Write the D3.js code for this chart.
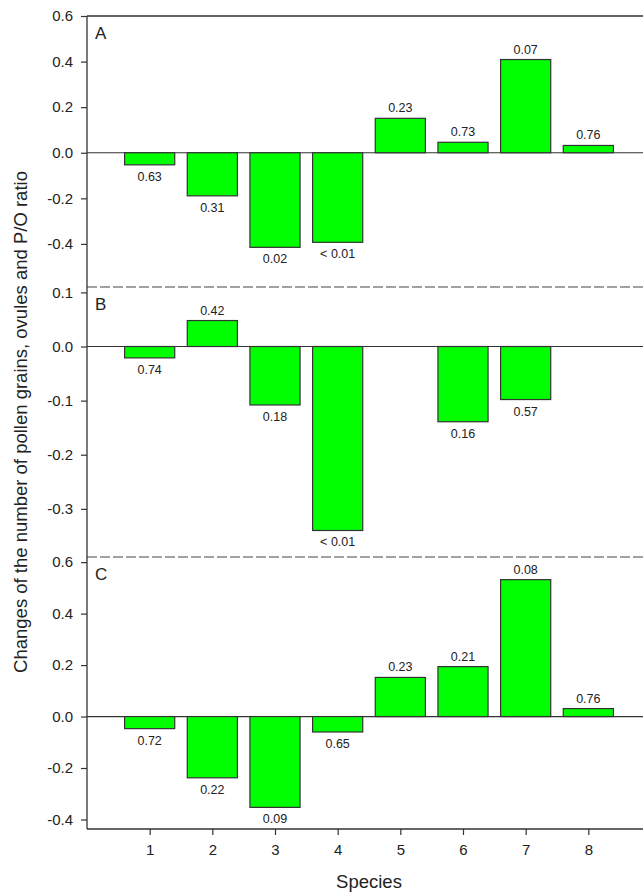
<!DOCTYPE html>
<html><head><meta charset="utf-8">
<script src="https://cdn.jsdelivr.net/npm/d3@7"></script>
<style>body{margin:0;background:#fff}svg{display:block}text{font-family:Arial,"Liberation Sans",sans-serif;fill:#222}</style>
</head><body><div id="chart"></div>
<script>
const species = [1,2,3,4,5,6,7,8];
const valuesA = [-0.053,-0.189,-0.415,-0.393,0.151,0.046,0.409,0.032];
const labelsA = ["0.63","0.31","0.02","< 0.01","0.23","0.73","0.07","0.76"];
const valuesB = [-0.021,0.048,-0.108,-0.340,null,-0.139,-0.098,null];
const labelsB = ["0.74","0.42","0.18","< 0.01","","0.16","0.57",""];
const valuesC = [-0.047,-0.238,-0.353,-0.060,0.152,0.194,0.532,0.031];
const labelsC = ["0.72","0.22","0.09","0.65","0.23","0.21","0.08","0.76"];
const ticksA = [-0.4,-0.2,0,0.2,0.4,0.6];
const ticksB = [-0.3,-0.2,-0.1,0,0.1];
const ticksC = [-0.4,-0.2,0,0.2,0.4,0.6];
const panelNames = ["A","B","C"];
const domainA = [-0.589,0.6], domainB = [-0.389,0.11], domainC = [-0.437,0.62];

const W=643,H=894;
const svg=d3.select("#chart").append("svg").attr("width",W).attr("height",H);
const left=87, right=651;
const x=d3.scaleLinear().domain([0,9]).range([left,right]);
const panels=[
  {name:panelNames[0],vals:valuesA,labs:labelsA,ticks:ticksA,y:d3.scaleLinear().domain(domainA).range([287,16])},
  {name:panelNames[1],vals:valuesB,labs:labelsB,ticks:ticksB,y:d3.scaleLinear().domain(domainB).range([557,287])},
  {name:panelNames[2],vals:valuesC,labs:labelsC,ticks:ticksC,y:d3.scaleLinear().domain(domainC).range([829,557])}
];
const lineCol="#333";
const fmt=d=>d.toFixed(1);
const bw=0.8;
panels.forEach((p,i)=>{
  const g=svg.append("g");
  g.append("line").attr("x1",left).attr("x2",right).attr("y1",p.y(0)).attr("y2",p.y(0)).attr("stroke",lineCol).attr("stroke-width",1.2);
  const data=species.map((s,j)=>({s,v:p.vals[j],l:p.labs[j]})).filter(d=>d.v!==null);
  g.selectAll("rect").data(data).enter().append("rect")
    .attr("x",d=>x(d.s-bw/2)).attr("width",d=>x(bw)-x(0))
    .attr("y",d=>p.y(Math.max(0,d.v))).attr("height",d=>Math.abs(p.y(d.v)-p.y(0)))
    .attr("fill","#00ff00").attr("stroke",lineCol).attr("stroke-width",1.2);
  g.selectAll("text.lab").data(data).enter().append("text").attr("class","lab")
    .attr("x",d=>x(d.s)).attr("y",d=>d.v<0?p.y(d.v)+16:p.y(d.v)-6)
    .attr("text-anchor","middle").attr("font-size",12.5).text(d=>d.l);
  const ax=g.append("g").attr("transform",`translate(${left},0)`)
    .call(d3.axisLeft(p.y).tickValues(p.ticks).tickFormat(fmt).tickSize(6).tickPadding(8));
  ax.select(".domain").remove();
  ax.selectAll("line").attr("stroke",lineCol).attr("stroke-width",1.2);
  ax.selectAll("text").attr("font-size",15).style("font-family","Arial, 'Liberation Sans', sans-serif").attr("fill","#222");
  g.append("text").attr("x",95).attr("y",p.y.range()[1]+23).attr("font-size",17).text(p.name);
  if(i>0){
    svg.append("line").attr("x1",left).attr("x2",W).attr("y1",p.y.range()[1]).attr("y2",p.y.range()[1])
      .attr("stroke","#444").attr("stroke-width",1.2).attr("stroke-dasharray","10,3");
  }
});
svg.append("line").attr("x1",left).attr("x2",left).attr("y1",16).attr("y2",829).attr("stroke",lineCol).attr("stroke-width",1.3);
svg.append("line").attr("x1",left).attr("x2",right).attr("y1",16).attr("y2",16).attr("stroke",lineCol).attr("stroke-width",1.3);
const xb=svg.append("g").attr("transform","translate(0,829)")
  .call(d3.axisBottom(x).tickValues(species).tickFormat(d3.format("d")).tickSize(6).tickPadding(9));
xb.select(".domain").remove();
svg.append("line").attr("x1",left).attr("x2",right).attr("y1",829).attr("y2",829).attr("stroke",lineCol).attr("stroke-width",1.3);
xb.selectAll("line").attr("stroke",lineCol).attr("stroke-width",1.2);
xb.selectAll("text").attr("font-size",15).style("font-family","Arial, 'Liberation Sans', sans-serif").attr("fill","#222");
svg.append("text").attr("x",(left+right)/2).attr("y",888).attr("text-anchor","middle").attr("font-size",18.5).text("Species");
svg.append("text").attr("transform","translate(27,422) rotate(-90)").attr("text-anchor","middle").attr("font-size",18.5)
  .text("Changes of the number of pollen grains, ovules and P/O ratio");
</script></body></html>
